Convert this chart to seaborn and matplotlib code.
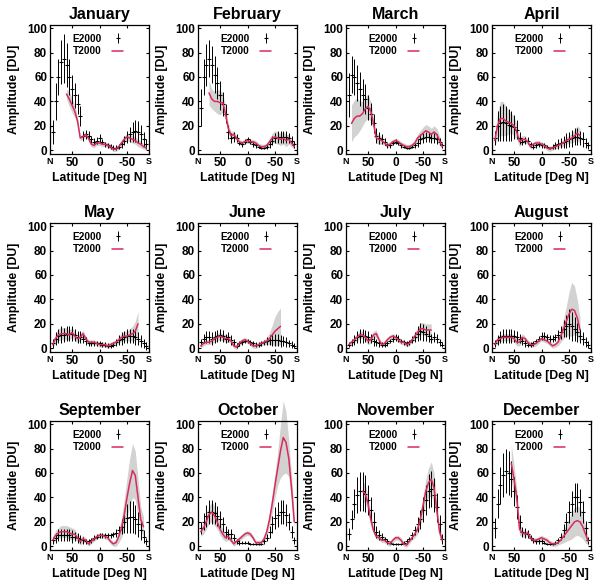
import numpy as np
import matplotlib
matplotlib.use("Agg")
import matplotlib.pyplot as plt
import seaborn as sns

nan = np.nan

# latitude grid, N -> S
LAT = [85, 80, 75, 70, 65, 60, 55, 50, 45, 40, 35, 30, 25, 20, 15, 10, 5, 0,
       -5, -10, -15, -20, -25, -30, -35, -40, -45, -50, -55, -60, -65, -70, -75, -80, -85]

MONTHS = ["January", "February", "March", "April", "May", "June",
          "July", "August", "September", "October", "November", "December"]

# E2000 mean / error, T2000 mean / spread (DU)
jan_e = [15, 40, 60, 72, 75, 70, 60, 50, 45, 38, 28, 12, 13, 12, 9, 7, 8, 10, 7, 5, 4, 3, 2, 2, 3, 5, 8, 11, 13, 15, 16, 15, 13, 9, 5]
jan_ee = [10, 15, 15, 18, 20, 18, 15, 12, 10, 8, 8, 4, 4, 4, 3, 3, 3, 3, 2, 2, 2, 2, 2, 2, 2, 3, 4, 5, 6, 8, 9, 9, 8, 6, 4]
jan_t = [nan, nan, nan, nan, nan, 46, 42, 37, 32, 24, 10, 11, 13, 10, 5, 4, 6, 6, 5, 5, 4, 3, 1, 1, 3, 6, 9, 11, 10, 9, 8, 6, 5, 3, 2]
jan_ts = [nan, nan, nan, nan, nan, 4, 6, 6, 5, 3, 2, 2, 2, 2, 2, 2, 2, 2, 2, 2, 2, 2, 2, 2, 2, 3, 3, 3, 3, 3, 3, 3, 3, 2, 2]

feb_e = [35, 60, 70, 75, 70, 62, 55, 45, 38, 30, 15, 10, 11, 10, 6, 5, 7, 9, 7, 5, 4, 3, 2, 2, 3, 5, 8, 10, 11, 11, 11, 11, 10, 8, 5]
feb_ee = [15, 15, 17, 15, 15, 15, 13, 12, 10, 8, 6, 4, 4, 3, 2, 2, 2, 2, 2, 2, 2, 1, 1, 1, 2, 3, 4, 4, 5, 5, 5, 5, 4, 4, 3]
feb_t = [nan, nan, nan, 47, 42, 40, 40, 39, 39, 30, 18, 12, 13, 10, 7, 6, 7, 8, 7, 7, 6, 4, 3, 3, 4, 7, 10, 11, 10, 9, 10, 8, 9, 6, 3]
feb_ts = [nan, nan, nan, 10, 8, 8, 10, 10, 8, 6, 4, 3, 3, 2, 2, 2, 2, 2, 2, 2, 2, 2, 2, 2, 2, 3, 4, 5, 5, 5, 5, 5, 4, 3, 2]

mar_e = [45, 62, 60, 55, 50, 45, 42, 35, 30, 22, 12, 10, 9, 7, 4, 4, 6, 7, 6, 4, 3, 2, 2, 3, 4, 6, 9, 10, 11, 11, 10, 10, 9, 7, 4]
mar_ee = [18, 15, 15, 15, 14, 13, 12, 10, 9, 8, 6, 5, 4, 3, 2, 2, 2, 2, 2, 2, 1, 1, 1, 1, 2, 3, 4, 4, 4, 4, 4, 4, 4, 3, 2]
mar_t = [nan, 22, 26, 28, 28, 30, 34, 36, 32, 22, 10, 9, 8, 6, 4, 5, 7, 8, 7, 5, 4, 3, 3, 4, 6, 10, 12, 14, 16, 15, 13, 15, 13, 8, 3]
mar_ts = [nan, 15, 15, 15, 12, 10, 10, 10, 8, 5, 4, 4, 3, 2, 2, 2, 2, 2, 2, 2, 2, 2, 2, 2, 2, 3, 4, 5, 5, 5, 5, 5, 5, 4, 2]

apr_e = [10, 20, 22, 23, 22, 21, 20, 19, 17, 10, 7, 8, 8, 5, 3, 4, 5, 4, 4, 3, 2, 3, 4, 5, 6, 7, 8, 9, 10, 11, 11, 10, 9, 6, 4]
apr_ee = [6, 12, 14, 15, 14, 13, 12, 10, 8, 5, 3, 3, 3, 2, 2, 2, 2, 2, 2, 1, 1, 2, 3, 4, 4, 5, 6, 6, 7, 7, 7, 6, 6, 4, 3]
apr_t = [8, 20, 26, 26, 24, 23, 22, 20, 15, 7, 9, 9, 7, 3, 5, 6, 6, 5, 4, 2, 1, 2, 3, 4, 5, 6, 8, 9, 10, 12, 14, 12, nan, nan, nan]
apr_ts = [4, 10, 14, 14, 12, 10, 8, 8, 6, 4, 3, 3, 2, 2, 2, 2, 2, 2, 2, 2, 2, 2, 2, 2, 2, 3, 3, 3, 4, 5, 6, 6, nan, nan, nan]

may_e = [4, 8, 10, 11, 11, 12, 12, 12, 11, 9, 9, 8, 6, 4, 4, 4, 4, 4, 3, 3, 2, 2, 3, 5, 7, 8, 9, 10, 10, 10, 9, 8, 6, 4, 2]
may_ee = [4, 5, 6, 7, 6, 6, 6, 6, 5, 5, 5, 4, 3, 2, 2, 2, 2, 2, 2, 2, 2, 2, 2, 3, 4, 5, 5, 6, 6, 6, 6, 5, 5, 4, 3]
may_t = [3, 8, 11, 12, 12, 12, 11, 13, 10, 8, 9, 12, 8, 5, 5, 5, 4, 3, 3, 3, 2, 3, 4, 5, 7, 9, 10, 10, 11, 12, 14, 20, nan, nan, nan]
may_ts = [2, 4, 5, 5, 5, 5, 4, 4, 4, 3, 3, 3, 2, 2, 2, 2, 2, 2, 2, 2, 2, 2, 2, 2, 3, 3, 4, 4, 5, 6, 8, 10, nan, nan, nan]

jun_e = [5, 8, 9, 9, 8, 9, 10, 11, 10, 8, 9, 7, 5, 2, 4, 5, 6, 6, 5, 4, 3, 3, 4, 5, 6, 7, 7, 7, 7, 6, 6, 5, 4, 3, 2]
jun_ee = [3, 4, 5, 5, 5, 5, 5, 5, 5, 4, 4, 4, 3, 2, 2, 2, 2, 2, 2, 2, 2, 2, 2, 2, 3, 4, 5, 5, 5, 5, 4, 4, 3, 3, 2]
jun_t = [2, 4, 5, 5, 6, 8, 9, 10, 9, 8, 8, 6, 2, 1, 4, 6, 7, 6, 4, 2, 2, 3, 4, 5, 6, 8, 11, 14, 16, 18, nan, nan, nan, nan, nan]
jun_ts = [2, 2, 2, 2, 2, 3, 3, 3, 3, 3, 3, 2, 2, 2, 2, 2, 2, 2, 2, 2, 2, 2, 2, 2, 3, 5, 8, 12, 14, 15, nan, nan, nan, nan, nan]

jul_e = [3, 5, 7, 9, 10, 10, 10, 9, 8, 6, 5, 4, 3, 3, 4, 6, 8, 9, 8, 6, 5, 4, 5, 7, 9, 12, 14, 13, 12, 10, 8, 9, 8, 5, 3]
jul_ee = [2, 3, 4, 5, 6, 6, 5, 5, 4, 4, 3, 3, 2, 2, 2, 2, 3, 3, 3, 2, 2, 2, 2, 3, 4, 6, 7, 7, 6, 5, 4, 4, 4, 3, 2]
jul_t = [3, 5, 7, 9, 11, 11, 9, 6, 7, 11, 12, 7, 3, 4, 7, 9, 10, 9, 7, 5, 5, 3, 4, 7, 10, 13, 16, 16, 15, 15, 15, nan, nan, nan, nan]
jul_ts = [2, 2, 2, 3, 3, 3, 3, 3, 3, 3, 3, 2, 2, 2, 2, 2, 2, 2, 2, 2, 2, 2, 2, 2, 3, 4, 5, 5, 5, 5, 5, nan, nan, nan, nan]

aug_e = [4, 7, 9, 10, 10, 10, 10, 10, 9, 8, 6, 4, 3, 3, 4, 6, 8, 10, 10, 9, 8, 8, 9, 11, 13, 16, 18, 20, 18, 16, 13, 10, 8, 5, 3]
aug_ee = [3, 4, 5, 6, 6, 6, 6, 5, 5, 4, 3, 3, 2, 2, 2, 2, 2, 3, 3, 3, 3, 3, 3, 4, 5, 7, 9, 12, 12, 10, 8, 6, 5, 4, 3]
aug_t = [3, 7, 8, 9, 9, 9, 9, 8, 5, 5, 9, 8, 5, 3, 3, 4, 6, 8, 7, 6, 4, 2, 3, 5, 10, 16, 22, 28, 32, 31, 25, 15, nan, nan, nan]
aug_ts = [2, 3, 3, 3, 3, 3, 3, 3, 3, 3, 3, 2, 2, 2, 2, 2, 2, 2, 2, 2, 2, 2, 2, 3, 5, 8, 12, 18, 22, 20, 15, 10, nan, nan, nan]

sep_e = [5, 7, 9, 9, 9, 9, 9, 8, 8, 7, 6, 5, 4, 4, 5, 7, 8, 9, 9, 9, 9, 9, 10, 11, 13, 16, 20, 23, 24, 24, 22, 18, 13, 8, 4]
sep_ee = [3, 4, 5, 5, 5, 5, 5, 5, 4, 4, 3, 3, 2, 2, 2, 2, 2, 2, 2, 2, 2, 2, 2, 3, 4, 6, 9, 12, 13, 13, 12, 10, 8, 5, 3]
sep_t = [5, 9, 11, 12, 12, 12, 11, 10, 10, 7, 4, 6, 5, 2, 4, 6, 8, 9, 9, 8, 7, 4, 2, 3, 8, 15, 26, 40, 52, 62, 58, 40, 22, 16, nan]
sep_ts = [3, 4, 4, 5, 5, 5, 5, 5, 4, 3, 3, 3, 2, 2, 2, 2, 2, 2, 2, 2, 2, 2, 2, 3, 5, 8, 12, 16, 20, 22, 20, 15, 10, 8, nan]

oct_e = [15, 20, 25, 28, 28, 27, 25, 22, 18, 12, 10, 10, 7, 4, 3, 3, 3, 3, 2, 2, 2, 2, 2, 4, 7, 12, 18, 23, 26, 28, 28, 26, 20, 12, 5]
oct_ee = [5, 7, 9, 10, 10, 9, 8, 7, 6, 5, 4, 4, 3, 2, 2, 1, 1, 1, 1, 1, 1, 1, 1, 2, 3, 5, 7, 9, 10, 10, 10, 9, 7, 5, 3]
oct_t = [12, 15, 20, 26, 28, 25, 20, 14, 10, 7, 8, 5, 2, 4, 6, 8, 10, 11, 10, 7, 3, 3, 3, 6, 12, 22, 35, 50, 64, 78, 89, 85, 72, 48, 20]
oct_ts = [4, 5, 6, 7, 8, 8, 6, 5, 4, 3, 3, 2, 2, 2, 2, 2, 2, 2, 2, 2, 2, 2, 2, 2, 3, 5, 8, 10, 14, 22, 30, 25, 15, 10, 6]

nov_e = [10, 22, 35, 42, 45, 45, 43, 38, 30, 20, 12, 9, 8, 6, 4, 3, 2, 2, 2, 2, 3, 4, 6, 9, 13, 18, 22, 30, 38, 45, 47, 42, 32, 18, 6]
nov_ee = [5, 8, 12, 15, 16, 16, 15, 12, 10, 8, 5, 4, 3, 2, 2, 1, 1, 1, 1, 1, 1, 2, 2, 3, 4, 6, 8, 10, 12, 14, 15, 14, 12, 8, 4]
nov_t = [nan, nan, nan, nan, nan, 45, 43, 35, 22, 13, 8, 7, 5, 5, 3, 2, 5, 7, 7, 5, 2, 1, 4, 7, 10, 14, 22, 33, 45, 52, 55, 48, 30, 12, 5]
nov_ts = [nan, nan, nan, nan, nan, 8, 8, 6, 5, 3, 2, 2, 2, 2, 2, 2, 2, 2, 2, 2, 2, 2, 2, 2, 3, 4, 6, 8, 10, 12, 14, 12, 8, 5, 3]

dec_e = [15, 35, 50, 58, 62, 60, 55, 45, 32, 20, 12, 11, 10, 7, 5, 4, 4, 4, 3, 2, 2, 2, 3, 5, 8, 13, 20, 28, 35, 40, 40, 36, 28, 15, 5]
dec_ee = [8, 12, 15, 18, 18, 18, 15, 12, 10, 6, 4, 4, 3, 2, 2, 2, 2, 2, 1, 1, 1, 1, 1, 2, 3, 5, 7, 9, 10, 12, 12, 11, 9, 6, 3]
dec_t = [nan, nan, nan, nan, nan, nan, 68, 55, 40, 14, 11, 10, 11, 7, 5, 5, 6, 7, 6, 5, 3, 2, 2, 3, 5, 8, 11, 14, 17, 20, 21, 20, 16, 10, 4]
dec_ts = [nan, nan, nan, nan, nan, nan, 15, 12, 8, 5, 3, 3, 2, 2, 2, 2, 2, 2, 2, 2, 2, 2, 2, 2, 3, 5, 7, 9, 11, 12, 12, 12, 10, 7, 3]

E_MEAN = [jan_e, feb_e, mar_e, apr_e, may_e, jun_e, jul_e, aug_e, sep_e, oct_e, nov_e, dec_e]
E_ERR = [jan_ee, feb_ee, mar_ee, apr_ee, may_ee, jun_ee, jul_ee, aug_ee, sep_ee, oct_ee, nov_ee, dec_ee]
T_MEAN = [jan_t, feb_t, mar_t, apr_t, may_t, jun_t, jul_t, aug_t, sep_t, oct_t, nov_t, dec_t]
T_SD = [jan_ts, feb_ts, mar_ts, apr_ts, may_ts, jun_ts, jul_ts, aug_ts, sep_ts, oct_ts, nov_ts, dec_ts]

sns.set_theme(style="ticks")
plt.rcParams["font.family"] = ["Liberation Sans", "DejaVu Sans"]
plt.rcParams["font.weight"] = "bold"
plt.rcParams["axes.titleweight"] = "bold"
plt.rcParams["axes.labelweight"] = "bold"
plt.rcParams["text.color"] = "black"
plt.rcParams["axes.labelcolor"] = "black"
plt.rcParams["xtick.color"] = "black"
plt.rcParams["ytick.color"] = "black"

RED = "#d92b5b"
GRAY = "#d2d2d2"

W, H = 602.0, 584.0
lefts = [50, 198, 346, 492]
tops = [25, 223, 421]
aw, ah = 99, 129

fig = plt.figure(figsize=(6.02, 5.84), dpi=100)

for i, name in enumerate(MONTHS):
    r, c = divmod(i, 4)
    ax = fig.add_axes([lefts[c] / W, 1 - (tops[r] + ah) / H, aw / W, ah / H])
    lat = np.array(LAT, float)
    t = np.array(T_MEAN[i], float)
    sd = np.array(T_SD[i], float)
    ax.fill_between(lat, t - sd, t + sd, color=GRAY, lw=0, zorder=1, clip_on=False)
    eb = ax.errorbar(lat, E_MEAN[i], yerr=E_ERR[i], fmt="_", color="black",
                     ms=2.5, mew=0.8, elinewidth=0.7, capsize=0, zorder=2)
    sns.lineplot(x=lat, y=t, ax=ax, color=RED, lw=1.1, zorder=3, errorbar=None)
    line = ax.lines[-1]

    ax.set_xlim(90, -90)
    ax.set_ylim(-3, 102.5)
    ax.set_yticks([0, 20, 40, 60, 80, 100])
    ax.set_xticks([90, 50, 0, -50, -90])
    ax.set_xticklabels(["N", "50", "0", "-50", "S"])
    ax.tick_params(axis="both", direction="in", length=2.5, width=0.8,
                   labelsize=8.5, pad=2, top=True, right=True)
    for k in (0, 4):
        ax.get_xticklabels()[k].set_fontsize(6.5)
    for sp in ax.spines.values():
        sp.set_linewidth(0.9)
        sp.set_color("black")

    ax.set_title(name, fontsize=11.5, pad=4)
    ax.set_xlabel("Latitude [Deg N]", fontsize=8.8, labelpad=2)
    ax.set_ylabel("Amplitude [DU]", fontsize=8.8, labelpad=5)

    ax.legend([eb, line], ["E2000", "T2000"], loc="upper right",
              bbox_to_anchor=(0.78, 0.965), frameon=False, markerfirst=False,
              prop={"weight": "bold", "size": 7.3}, handlelength=1.1,
              handletextpad=1.0, labelspacing=0.25, borderaxespad=0)

fig.savefig("out.png", dpi=100)
